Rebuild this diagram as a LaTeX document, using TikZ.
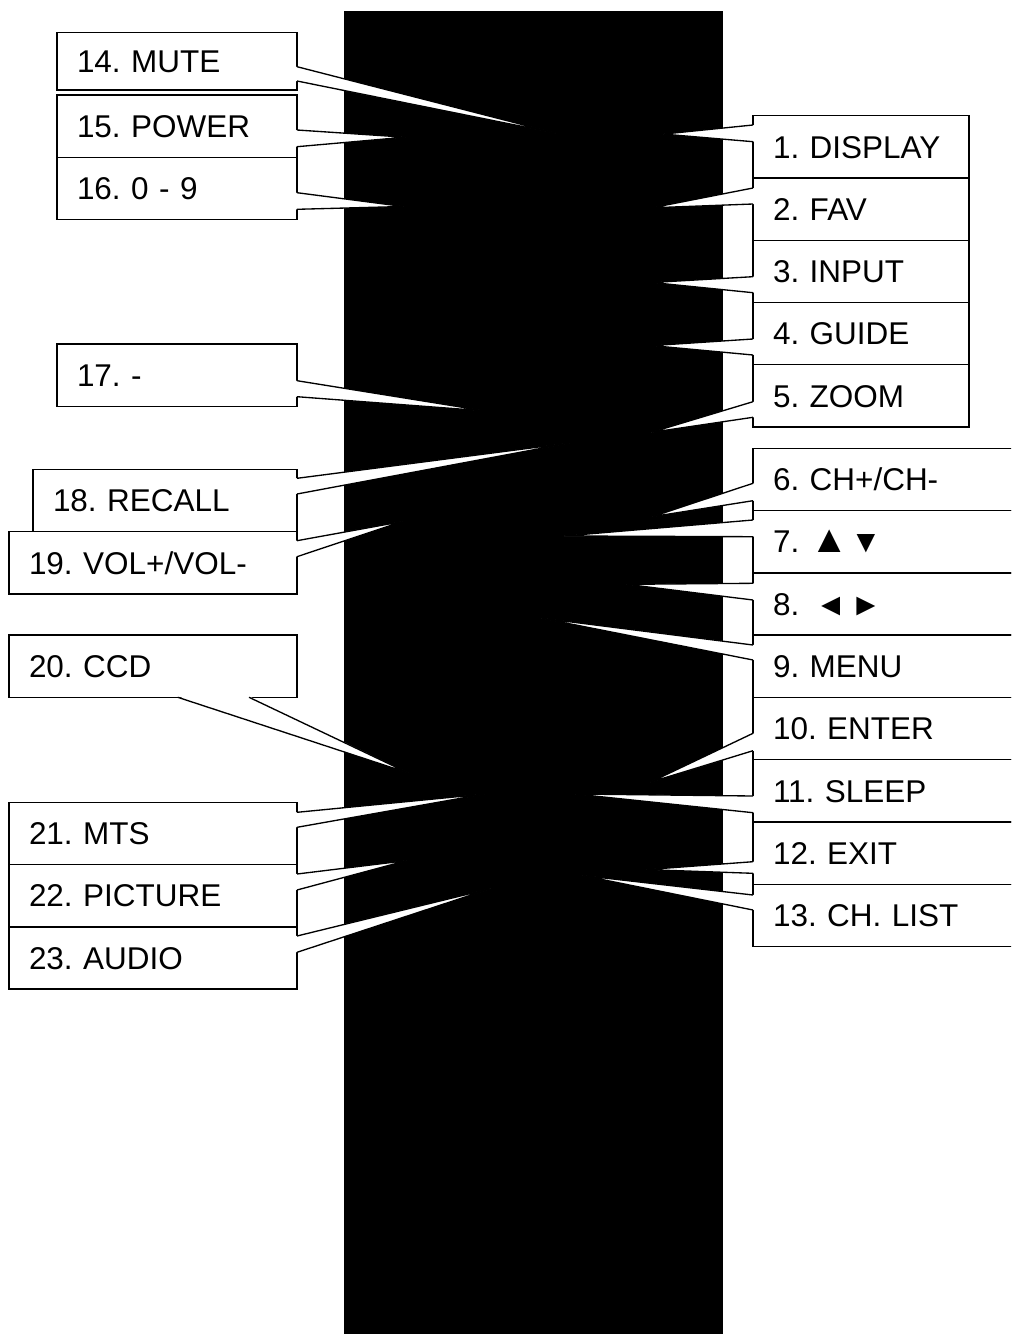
\documentclass[tikz,border=0pt]{standalone}
\usepackage{fontspec}
\setmainfont{Liberation Sans}
\usetikzlibrary{positioning,calc}

% wedge from a key box edge to a spot on the remote
\newcommand{\wedgewest}[4]{%
  \fill[white] ($(#1.west |- 0,#2)+(1,0)$) -- (#4) -- ($(#1.west |- 0,#3)+(1,0)$) -- cycle;
  \draw (#1.west |- 0,#2) -- (#4) -- (#1.west |- 0,#3);}
\newcommand{\wedgeeast}[4]{%
  \fill[white] ($(#1.east |- 0,#2)+(-1,0)$) -- (#4) -- ($(#1.east |- 0,#3)+(-1,0)$) -- cycle;
  \draw (#1.east |- 0,#2) -- (#4) -- (#1.east |- 0,#3);}
\newcommand{\wedgesouth}[4]{%
  \fill[white] ($(#2,0 |- #1.south)+(0,-1)$) -- (#4) -- ($(#3,0 |- #1.south)+(0,-1)$) -- cycle;
  \draw (#2,0 |- #1.south) -- (#4) -- (#3,0 |- #1.south);}

\begin{document}
\begin{tikzpicture}[
  x=0.75pt, y=-0.75pt, line width=1pt,
  font=\fontsize{23.6}{28}\selectfont\frenchspacing,
  key/.style={draw,fill=white,outer sep=0pt,inner xsep=15pt,inner ysep=0pt,
    minimum height=46.7pt,text height=16.9pt,text depth=0pt,align=left,
    anchor=north west,text width=#1},
]
  \useasboundingbox (0,0) rectangle (1011,1334);
  \clip (0,0) rectangle (1011,1334);

  % the remote
  \fill (344.3,11) rectangle (722.7,1340);

  % right column
  \node[key=132pt] (b1) at (753,115.7) {1. DISPLAY};
  \node[key=132pt,below=0pt of b1] (b2) {2. FAV};
  \node[key=132pt,below=0pt of b2] (b3) {3. INPUT};
  \node[key=132pt,below=0pt of b3] (b4) {4. GUIDE};
  \node[key=132pt,below=0pt of b4] (b5) {5. ZOOM};
  \node[key=189pt] (b6) at (753,448.3) {6. CH+/CH-};
  \node[key=189pt,below=0pt of b6] (b7)
    {7.\hspace{8.3pt}\makebox[30pt][l]{\fontsize{29}{29}\selectfont▲}▼};
  \node[key=189pt,below=0pt of b7] (b8)
    {8.\hspace{12pt}\makebox[26.25pt][l]{◄}►};
  \node[key=189pt,below=0pt of b8] (b9) {9. MENU};
  \node[key=189pt,below=0pt of b9] (b10) {10. ENTER};
  \node[key=189pt,below=0pt of b10] (b11) {11. SLEEP};
  \node[key=189pt,below=0pt of b11] (b12) {12. EXIT};
  \node[key=189pt,below=0pt of b12] (b13) {13. CH. LIST};

  % left column
  \node[key=150pt,minimum height=43.3pt] (b14) at (57,32.3) {14. MUTE};
  \node[key=150pt] (b15) at (57,95) {15. POWER};
  \node[key=150pt,below=0pt of b15] (b16) {16. 0 - 9};
  \node[key=150pt] (b17) at (57,344) {17. -};
  \node[key=168pt] (b18) at (33,469.3) {18. RECALL};
  \node[key=186pt] (b19) at (9,531.7) {19. VOL+/VOL-};
  \node[key=186pt] (b20) at (9,635) {20. CCD};
  \node[key=186pt] (b21) at (9,802.3) {21. MTS};
  \node[key=186pt,below=0pt of b21] (b22) {22. PICTURE};
  \node[key=186pt,below=0pt of b22] (b23) {23. AUDIO};

  % spots on the remote
  \coordinate (p1) at (663.4,134.1);
  \coordinate (p2) at (652,207.8);
  \coordinate (p3) at (652,282.5);
  \coordinate (p4) at (652,345.6);
  \coordinate (p5) at (651.5,432.3);
  \coordinate (p6) at (652.5,516.6);
  \coordinate (p7) at (564.3,536);
  \coordinate (p8) at (626.6,584.3);
  \coordinate (p9) at (541.5,618.2);
  \coordinate (p10) at (650.3,782.2);
  \coordinate (p11) at (575.3,794);
  \coordinate (p12) at (646.4,869.6);
  \coordinate (p13) at (582.4,875.5);
  \coordinate (p14) at (555.8,133.2);
  \coordinate (p15) at (405,137.2);
  \coordinate (p16) at (403.2,206.5);
  \coordinate (p17) at (484.8,410.9);
  \coordinate (p18) at (569.7,443);
  \coordinate (p19) at (402.1,521.6);
  \coordinate (p20) at (408.1,772.9);
  \coordinate (p21) at (484.2,794.1);
  \coordinate (p22) at (406.7,860.6);
  \coordinate (p23) at (490.6,888.6);

  \wedgewest{b1}{125}{141.7}{p1}
  \wedgewest{b2}{188}{204}{p2}
  \wedgewest{b3}{276.7}{292.7}{p3}
  \wedgewest{b4}{339}{355}{p4}
  \wedgewest{b5}{401.7}{417.3}{p5}
  \wedgewest{b6}{483.3}{500.7}{p6}
  \wedgewest{b7}{520}{536.7}{p7}
  \wedgewest{b8}{583.3}{600}{p8}
  \wedgewest{b9}{645}{660}{p9}
  \wedgewest{b10}{733.3}{750.7}{p10}
  \wedgewest{b11}{796}{812.7}{p11}
  \wedgewest{b12}{861.7}{873.3}{p12}
  \wedgewest{b13}{895}{910}{p13}
  \wedgeeast{b14}{66.7}{81}{p14}
  \wedgeeast{b15}{130}{146.7}{p15}
  \wedgeeast{b16}{192.7}{209.3}{p16}
  \wedgeeast{b17}{380.7}{396.7}{p17}
  \wedgeeast{b18}{478.3}{494}{p18}
  \wedgeeast{b19}{540.7}{556.7}{p19}
  \wedgesouth{b20}{177.7}{249}{p20}
  \wedgeeast{b21}{812.3}{827.3}{p21}
  \wedgeeast{b22}{874}{890}{p22}
  \wedgeeast{b23}{936}{952.3}{p23}
\end{tikzpicture}
\end{document}
